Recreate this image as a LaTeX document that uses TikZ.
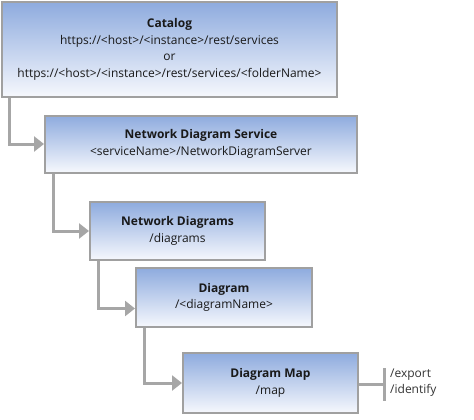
\documentclass[tikz,border=0pt]{standalone}
\usepackage{fontspec}
\setmainfont{Open Sans}
\usetikzlibrary{arrows.meta}

\definecolor{boxgray}{HTML}{A0A0A0}
\definecolor{linkgray}{HTML}{A6A6A6}
\definecolor{boxblue}{HTML}{8EABDE}
\definecolor{boxwhite}{HTML}{F6F8FD}

\begin{document}
\begin{tikzpicture}[x = 1pt, y = -1pt,
	box/.style = {draw = boxgray, line width = 2pt, top color = boxblue, bottom color = boxwhite,
		align = center, inner sep = 0pt, text = black!90, font = \fontsize{12}{16.5}\selectfont},
	link/.style = {draw = linkgray, line width = 3pt, -{Triangle[length = 10pt, width = 15pt]}}]
	\useasboundingbox (0, 0) rectangle (474, 420);

	\node[box, minimum width = 335pt, minimum height = 95pt] (catalog) at (169.5, 49.5)
		{\textbf{Catalog}\\https://<host>/<instance>/rest/services\\or\\https://<host>/<instance>/rest/services/<folderName>};
	\node[box, minimum width = 312pt, minimum height = 57pt] (service) at (201, 144)
		{\textbf{Network Diagram Service}\\<serviceName>/NetworkDiagramServer};
	\node[box, minimum width = 175pt, minimum height = 58pt] (diagrams) at (177.5, 231)
		{\textbf{Network Diagrams}\\/diagrams};
	\node[box, minimum width = 176pt, minimum height = 59pt] (diagram) at (224, 297.5)
		{\textbf{Diagram}\\/<diagramName>};
	\node[box, minimum width = 175pt, minimum height = 60pt] (map) at (270.5, 383)
		{\textbf{Diagram Map}\\/map};

	\draw[link] ([xshift = 8pt]catalog.south west) |- (service.west);
	\draw[link] ([xshift = 9pt]service.south west) |- (diagrams.west);
	\draw[link] ([xshift = 9pt]diagrams.south west) |- ([yshift = -11pt]diagram.west);
	\draw[link] ([xshift = 9pt]diagram.south west) |- (map.west);

	\coordinate (bar) at (384, 384);
	\draw[linkgray, line width = 3pt] (map.east |- bar) -- (bar);
	\draw[linkgray, line width = 3pt] ([yshift = 16pt]bar) -- ([yshift = -17pt]bar);
	\node[anchor = west, align = left, inner sep = 0pt, text = black!80,
		font = \fontsize{12}{16}\selectfont] (ops) at (390, 383) {/export\\/identify};
\end{tikzpicture}
\end{document}
